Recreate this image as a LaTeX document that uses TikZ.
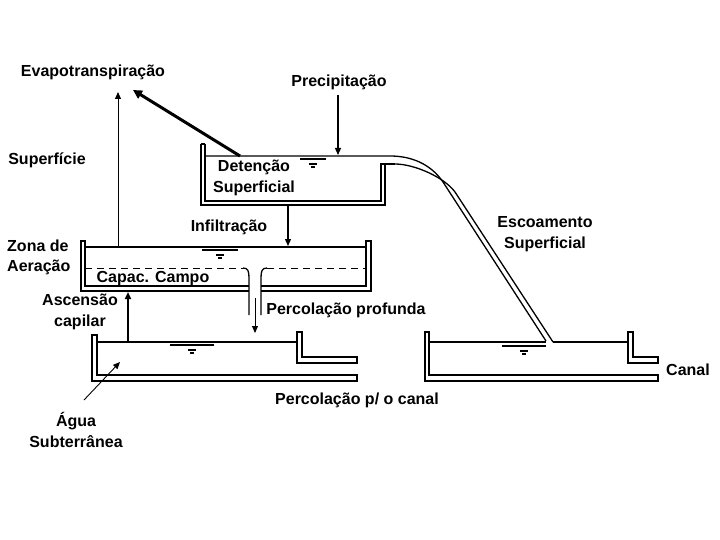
\documentclass[tikz,border=0pt]{standalone}
\usepackage{fontspec}
\setmainfont{Liberation Sans}
\usetikzlibrary{arrows.meta}
\tikzset{
    rotulo/.style={font=\fontsize{16}{20.5}\selectfont\bfseries, inner sep=0pt, align=center},
    parede/.style={line width=1.3pt, line join=miter},
    seta/.style={line width=1.2pt, -{Triangle[length=7pt,width=6pt]}},
    setagrossa/.style={line width=3pt, -{Triangle[length=9pt,width=9pt]}},
}
\newcommand{\nivelagua}[3]{
    \draw[line width=1.5pt] ({#1-#3},#2) -- ({#1+#3},#2);
    \draw[line width=1.2pt] ({#1-4},{#2+5}) -- ({#1+4},{#2+5});
    \draw[line width=1.2pt] ({#1-2},{#2+8}) -- ({#1+2},{#2+8});
}
\begin{document}
\begin{tikzpicture}[x=1pt, y=-1pt]
            \useasboundingbox (0,0) rectangle (720,540);
            \fill[white] (0,0) rectangle (720,540);

            \node[rotulo] (evapo) at (93,72) {Evapotranspiração};
            \node[rotulo] (precip) at (339,82) {Precipitação};
            \node[rotulo] (superf) at (47,160) {Superfície};
            \node[rotulo] (detencao) at (254,178) {Detenção\\Superficial};
            \node[rotulo] (infiltr) at (229,227) {Infiltração};
            \node[rotulo, align=left, anchor=west] (zona) at (7,257.5) {Zona de\\Aeração};
            \node[rotulo] (capac) at (153,279) {Capac. Campo};
            \node[rotulo] (ascensao) at (80,312) {Ascensão\\capilar};
            \node[rotulo] (percprof) at (346,310) {Percolação profunda};
            \node[rotulo] (escoam) at (545,234) {Escoamento\\Superficial};
            \node[rotulo] (canal) at (688,370) {Canal};
            \node[rotulo] (perccanal) at (357,400) {Percolação p/ o canal};
            \node[rotulo] (agua) at (76,430) {Água\\Subterrânea};

            \draw[parede] (201,144) -- (201,205) -- (385,205) -- (385,164);
            \draw[parede] (205,144) -- (205,201) -- (381,201) -- (381,164) -- (395,164);
            \draw[parede] (201,144) -- (205,144);
            \draw[parede] (205,156) -- (390,156) .. controls (410,156) and (430,163) .. (443,182) -- (546,341);
            \draw[parede] (395,164) .. controls (414,164) and (444,177) .. (455,192) -- (553,342);
            \nivelagua{313}{159}{13}

            \draw[parede] (249,291) -- (81,291) -- (81,241) -- (85,241) -- (85,286) -- (249,286);
            \draw[parede] (261,286) -- (366,286) -- (366,241) -- (371,241) -- (371,291) -- (261,291);
            \draw[parede] (85,247) -- (366,247);
            \draw[line width=1pt, dash pattern=on 7pt off 5pt] (85,268) -- (243,268);
            \draw[line width=1pt, dash pattern=on 7pt off 5pt] (267,268) -- (366,268);
            \draw[parede] (243,268) .. controls (248,268) and (249,271) .. (249,278) -- (249,315);
            \draw[parede] (267,268) .. controls (262,268) and (261,271) .. (261,278) -- (261,315);
            \nivelagua{220}{250}{18}

            \draw[parede] (92,335) -- (92,381) -- (357,381) -- (357,375) -- (97,375) -- (97,335) -- cycle;
            \draw[parede] (297,332) -- (302,332) -- (302,357) -- (357,357) -- (357,363) -- (297,363) -- cycle;
            \draw[line width=1.6pt] (97,342) -- (297,342);
            \nivelagua{192}{345}{22}

            \draw[parede] (425,332) -- (425,381) -- (658,381) -- (658,375) -- (429,375) -- (429,332) -- cycle;
            \draw[parede] (628,332) -- (633,332) -- (633,357) -- (658,357) -- (658,363) -- (628,363) -- cycle;
            \draw[line width=1.6pt] (429,342) -- (546,342);
            \draw[line width=1.6pt] (553,342) -- (628,342);
            \nivelagua{524}{346}{22}

            \coordinate (evapoAlvo) at (133,90);
            \coordinate (evapoFonte) at (240,156);
            \coordinate (aeracaoTopo) at (118,247);
            \coordinate (evapoSeta) at (118,92);
            \coordinate (chuva) at (338,95);
            \coordinate (chuvaAlvo) at (338,155);
            \coordinate (fundoDet) at (288,205);
            \coordinate (topoAer) at (288,246);
            \coordinate (tuboTopo) at (255,298);
            \coordinate (tuboFim) at (255,333);
            \coordinate (lencol) at (128,341);
            \coordinate (fundoAer) at (128,292);
            \coordinate (aguaSeta) at (84,400);
            \coordinate (aguaAlvo) at (120,362);

            \draw[setagrossa] (evapoFonte) -- (evapoAlvo);
            \draw[seta, line width=1pt] (aeracaoTopo) -- (evapoSeta);
            \draw[seta] (chuva) -- (chuvaAlvo);
            \draw[seta] (fundoDet) -- (topoAer);
            \draw[seta, line width=1pt] (tuboTopo) -- (tuboFim);
            \draw[seta, line width=2pt] (lencol) -- (fundoAer);
            \draw[seta, line width=0.9pt] (aguaSeta) -- (aguaAlvo);
\end{tikzpicture}
\end{document}
